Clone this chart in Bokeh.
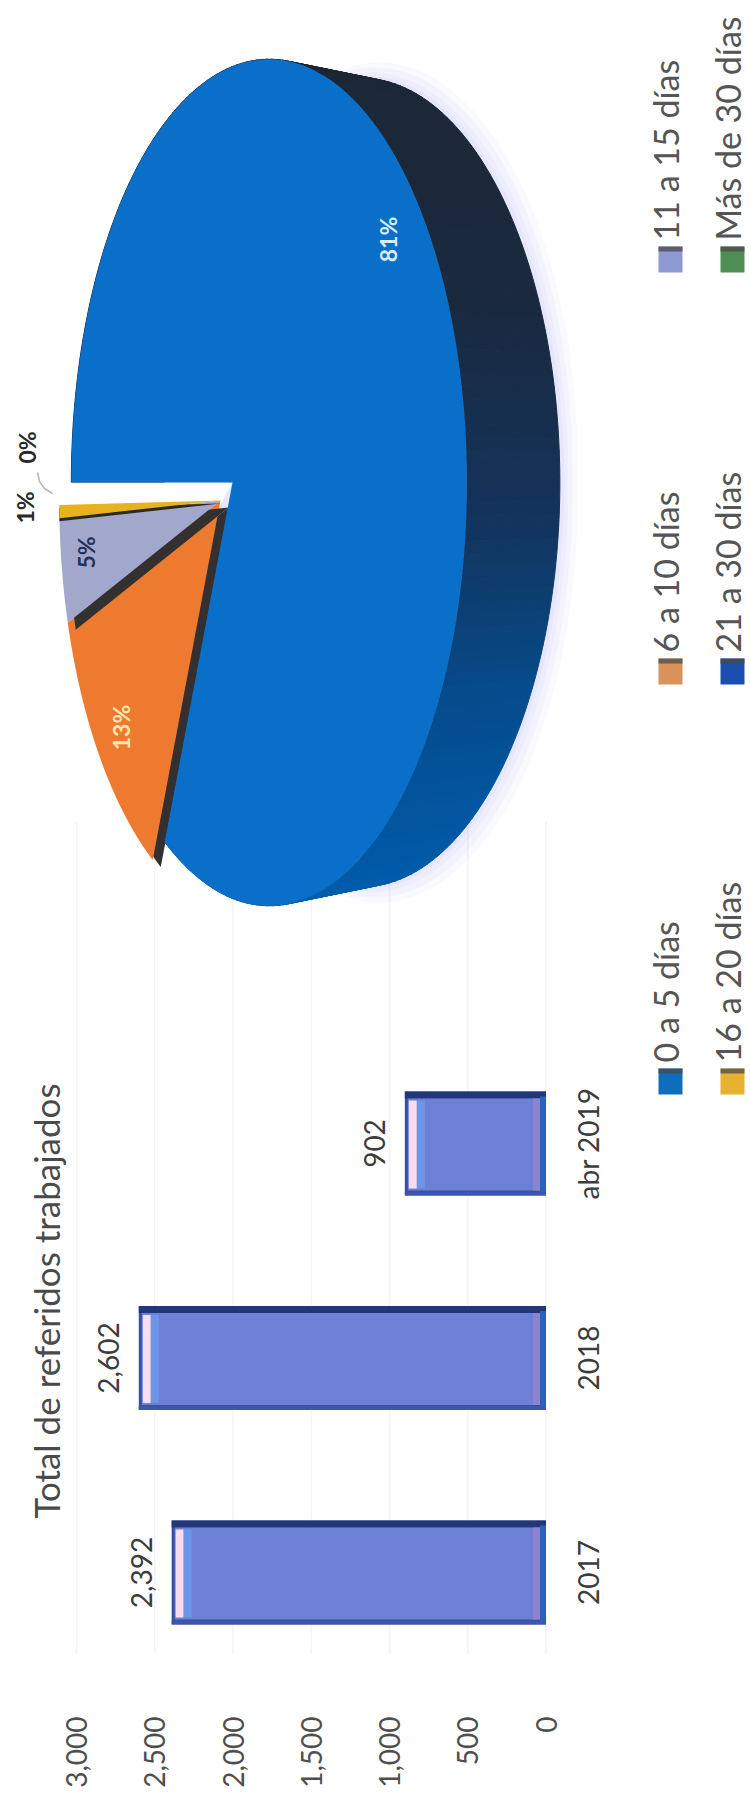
import numpy as np
from bokeh.plotting import figure
from bokeh.models import Range1d, LinearAxis, FixedTicker, NumeralTickFormatter
from bokeh.core.properties import value
from bokeh.embed import file_html
from bokeh.resources import INLINE

# ---- data ----
bar_categories = ["2017", "2018", "abr 2019"]
bar_values = [2392, 2602, 902]
bar_title = "Total de referidos trabajados"
value_ticks = [0, 500, 1000, 1500, 2000, 2500, 3000]

pie_labels = ["0 a 5 días", "6 a 10 días", "11 a 15 días", "16 a 20 días", "21 a 30 días", "Más de 30 días"]
pie_shares = [81.2, 13.2, 4.8, 0.6, 0.1, 0.1]
pie_colors = ["#0a6fc8", "#ed7a2e", "#a2a7cc", "#e6b21f", "#f4f4fb", "#f4f4fb"]
swatch_colors = ["#0f6dbd", "#d9935a", "#8f9ad2", "#e6b230", "#1a4fb0", "#4f8f55"]

# ---- layout constants ----
FONT = "Lato"
W_FIG = 750
PX_V = 0.1565          # px per value unit
X0 = 545.5             # page x of zero
Y_STEP = 214.5         # px between categories
Y_BOT = 1705           # page y of the bottom of the frame

p = figure(width=W_FIG, height=1792, output_backend="svg", toolbar_location=None,
           x_range=Range1d(X0 / PX_V, (X0 - W_FIG) / PX_V),
           y_range=Range1d((1572 - Y_BOT) / Y_STEP, 1572 / Y_STEP),
           x_axis_type=None, y_axis_type=None,
           min_border_left=0, min_border_right=0, min_border_top=0, min_border_bottom=87)
p.outline_line_color = None
p.background_fill_color = "white"
p.extra_x_ranges = {"page": Range1d(0, W_FIG)}
p.extra_y_ranges = {"page": Range1d(Y_BOT, 0)}

axis = LinearAxis(ticker=FixedTicker(ticks=value_ticks), formatter=NumeralTickFormatter(format="0,0"))
axis.axis_line_color = None
axis.major_tick_line_color = None
axis.minor_tick_line_color = None
axis.major_label_orientation = np.pi / 2
axis.major_label_standoff = 5
axis.major_label_text_font = FONT
axis.major_label_text_font_size = "28px"
axis.major_label_text_color = "#4f4f4f"
p.add_layout(axis, "below")

# faint gridlines
p.segment(x0=value_ticks, x1=value_ticks, y0=[-0.38] * len(value_ticks), y1=[3.5] * len(value_ticks),
          line_color="#f4f4f4", line_width=1.5)


# ---- pie, perspective disc ----
def disc(theta_deg, cx, cy, a=191.0, b=416.0, k=0.185, r=1.0, dx=0.0, dy=0.0):
    t = np.radians(theta_deg)
    w = -np.cos(t) * r
    u = -np.sin(t) * r
    return cx + a * w / (1 - k * w) + dx, cy + b * u / (1 - k * w) + dy


def lerp_color(y):
    stops_y = [57, 300, 520, 700, 900]
    r = np.interp(y, stops_y, [0x1d, 0x1a, 0x14, 0x06, 0x00])
    g_ = np.interp(y, stops_y, [0x27, 0x2a, 0x34, 0x4c, 0x5c])
    b_ = np.interp(y, stops_y, [0x36, 0x3f, 0x5c, 0x8c, 0xac])
    return "#%02x%02x%02x" % (int(r), int(g_), int(b_))


BLUE_C = (232, 482)
REST_C = (220, 500)
WALL = 93
WALL_SQUEEZE = 0.955
edges = np.concatenate([[0], np.cumsum(pie_shares) / sum(pie_shares) * 360])

# soft shadow
th = np.linspace(0, 360, 240)
for i, grow in enumerate([26, 18, 10, 4]):
    sx, sy = disc(th, *BLUE_C, dx=WALL + 2)
    sy = BLUE_C[1] + (sy - BLUE_C[1]) * WALL_SQUEEZE
    p.patch(sx + grow * np.sign(sx - 320) * 0.6, sy + grow * np.sign(sy - 482) * 0.6,
            x_range_name="page", y_range_name="page",
            fill_color="#8a86e8", fill_alpha=0.05, line_color=None)

# blue wall, in strips
ths = np.linspace(edges[0], edges[1], 200)
wx, wy, wc = [], [], []
for t0, t1 in zip(ths[:-1], ths[1:]):
    x0, y0 = disc(t0, *BLUE_C)
    x1, y1 = disc(t1, *BLUE_C)
    oy0 = BLUE_C[1] + (y0 - BLUE_C[1]) * WALL_SQUEEZE
    oy1 = BLUE_C[1] + (y1 - BLUE_C[1]) * WALL_SQUEEZE
    wx.append([x0, x1, x1 + WALL, x0 + WALL])
    wy.append([y0, y1, oy1, oy0])
    wc.append(lerp_color((y0 + y1) / 2))
p.patches(wx, wy, fill_color=wc, line_color=wc, line_width=1, x_range_name="page", y_range_name="page")


def slice_poly(i, cx, cy, dx=0.0, dy=0.0):
    tt = np.linspace(edges[i], edges[i + 1], max(4, int((edges[i + 1] - edges[i]) * 2)))
    x, y = disc(tt, cx, cy, dx=dx, dy=dy)
    return np.r_[cx + dx, x], np.r_[cy + dy, y]


# white gap where the blue slice stands off the others
gx0, gy0 = disc(0.0, *BLUE_C)
gx1, gy1 = disc(360.0, *REST_C)
p.patch([BLUE_C[0], gx0 - 25, gx1 - 25, REST_C[0]], [BLUE_C[1], gy0, gy1 + 4, REST_C[1] + 4],
        fill_color="white", line_color=None, x_range_name="page", y_range_name="page")

# other slices with their dark inner walls
for i in [1, 2]:
    x, y = slice_poly(i, *REST_C, dx=8, dy=7)
    p.patch(x, y, fill_color="#33302f", line_color=None, x_range_name="page", y_range_name="page")
    x, y = slice_poly(i, *REST_C)
    p.patch(x, y, fill_color=pie_colors[i], line_color=None, x_range_name="page", y_range_name="page")
x, y = slice_poly(3, *REST_C, dx=0, dy=3)
p.patch(x, y, fill_color="#2b2a20", line_color=None, x_range_name="page", y_range_name="page")
x, y = slice_poly(3, *REST_C)
p.patch(x, y, fill_color=pie_colors[3], line_color=None, x_range_name="page", y_range_name="page")

# blue top face
x, y = slice_poly(0, *BLUE_C)
p.patch(x, y, fill_color=pie_colors[0], line_color=None, x_range_name="page", y_range_name="page")

# pie labels
pct = [f"{round(s)}%" for s in pie_shares]
lab_x = [387, 120, 85, 24, 26]
lab_y = [239, 727, 552, 507, 447]
lab_c = ["#d5ecfa", "#ffe6b0", "#26305a", "#2a2a2a", "#2a2a2a"]
p.text(x=lab_x, y=lab_y, text=pct[:5], text_color=lab_c, angle=np.pi / 2,
       text_align="center", text_baseline="middle", text_font=value(FONT), text_font_size="23px",
       text_font_style="bold", x_range_name="page", y_range_name="page")
p.line(x=[37, 39, 44, 52], y=[472, 481, 488, 493], line_color="#b5b5b5", line_width=1.5,
       x_range_name="page", y_range_name="page")

# ---- legend ----
col_x = [670, 732]
row_bottom = [1094, 684, 272]
for i, lab in enumerate(pie_labels):
    cx = col_x[i // 3]
    by = row_bottom[i % 3]
    p.quad(left=[cx - 12], right=[cx + 12], top=[by - 26], bottom=[by], fill_color=swatch_colors[i],
           line_color=None, x_range_name="page", y_range_name="page")
    p.quad(left=[cx - 12], right=[cx + 12], top=[by - 26], bottom=[by - 21], fill_color="#4a4a4a",
           fill_alpha=0.75, line_color=None, x_range_name="page", y_range_name="page")
    p.text(x=[cx - 5], y=[by - 32], text=[lab], text_color="#555555", angle=np.pi / 2,
           text_align="left", text_baseline="middle", text_font=value(FONT), text_font_size="34px",
           x_range_name="page", y_range_name="page")

# ---- bars ----
idx = np.arange(len(bar_values))
vals = np.array(bar_values, dtype=float)
H = 104 / Y_STEP
px_x = 1 / PX_V
px_y = 1 / Y_STEP
zero = np.zeros_like(vals)
p.hbar(y=idx, left=zero, right=vals, height=H, fill_color="#34509f", line_color=None)
p.hbar(y=idx + H / 2 - 3.5 * px_y, left=zero, right=vals, height=7 * px_y, fill_color="#24367a", line_color=None)
p.hbar(y=idx - H / 2 + 2 * px_y, left=zero, right=vals, height=4 * px_y, fill_color="#3f55a8", line_color=None)
p.hbar(y=idx - 1 * px_y, left=zero + 6 * px_x, right=vals - 3 * px_x, height=H - 12 * px_y,
       fill_color="#6c80d6", line_color=None)
p.hbar(y=idx - 1 * px_y, left=zero, right=zero + 6 * px_x, height=H - 8 * px_y, fill_color="#2a62bb", line_color=None)
p.hbar(y=idx - 1 * px_y, left=zero + 6 * px_x, right=zero + 13 * px_x, height=H - 12 * px_y,
       fill_color="#8f82cf", line_color=None)
p.hbar(y=idx - 1 * px_y, left=vals - 12 * px_x, right=vals - 4 * px_x, height=H - 16 * px_y,
       fill_color="#fbdcef", line_color=None)
p.hbar(y=idx - 1 * px_y, left=vals - 20 * px_x, right=vals - 12 * px_x, height=H - 16 * px_y,
       fill_color="#6e96e8", line_color=None)

p.text(x=vals, y=idx, text=[f"{v:,}" for v in bar_values], x_offset=-30, text_color="#3c3c3c",
       angle=np.pi / 2, text_align="center", text_baseline="middle", text_font=value(FONT),
       text_font_size="28px")
p.text(x=zero, y=idx, text=bar_categories, x_offset=42, text_color="#3c3c3c",
       angle=np.pi / 2, text_align="center", text_baseline="middle", text_font=value(FONT),
       text_font_size="28px")
p.text(x=[45], y=[1518], text=[bar_title], text_color="#4a4a4a", angle=np.pi / 2,
       text_align="left", text_baseline="middle", text_font=value(FONT), text_font_size="35px",
       x_range_name="page", y_range_name="page")

open("out.html", "w").write(file_html(p, INLINE))
